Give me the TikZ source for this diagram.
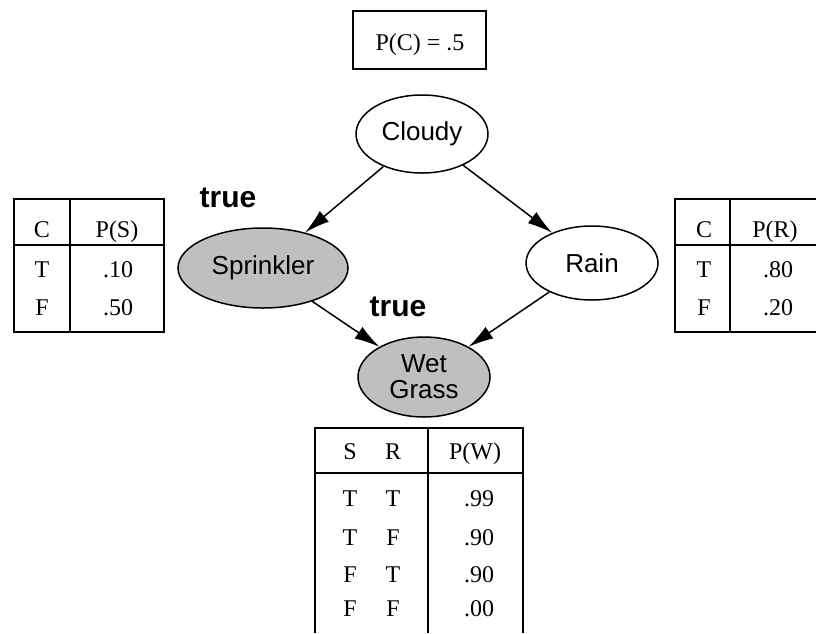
\documentclass[tikz,border=0pt]{standalone}
\usepackage{fontspec}
\setmainfont{Liberation Serif}
\setsansfont{Liberation Sans}
\usetikzlibrary{arrows.meta,shapes.geometric}

\tikzset{
  var/.style={draw, ellipse, line width=1.5pt, inner sep=0pt, align=center,
    minimum width=132pt, minimum height=78pt,
    font=\sffamily\fontsize{26}{26}\selectfont},
  obs/.style={var, fill=black!25},
  dep/.style={-{Latex[length=25pt,width=14pt]}, line width=1.5pt},
  cell/.style={anchor=base, inner sep=0pt, font=\fontsize{24}{26}\selectfont},
  evid/.style={anchor=base, inner sep=0pt, font=\sffamily\bfseries\fontsize{30}{32}\selectfont},
  rule/.style={line width=1.5pt}
}

\begin{document}
\begin{tikzpicture}[x=1pt, y=-1pt]
\useasboundingbox (0,0) rectangle (816,633);

% prior of Cloudy
\draw[rule] (353,11) rectangle (486,69);
\node[cell] (pc) at (420,50) {P(C) = .5};

% variables
\node[var] (cloudy) at (422,134) {Cloudy};
\node[obs, minimum width=170pt, minimum height=80pt] (sprinkler) at (263,268) {Sprinkler};
\node[var, minimum height=74pt] (rain) at (592,263) {Rain};
\node[obs, minimum height=80pt] (wetgrass) at (424,377) {Wet\\Grass};

\path[dep] (cloudy) edge (sprinkler);
\path[dep] (cloudy) edge (rain);
\path[dep] (sprinkler) edge (wetgrass);
\path[dep] (rain) edge (wetgrass);

% evidence
\node[evid] (trueS) at (228,207) {true};
\node[evid] (trueW) at (398,316) {true};

% table of Sprinkler
\draw[rule] (14,199) rectangle (164,332);
\draw[rule] (70,199) -- (70,332);
\draw[rule] (14,245) -- (164,245);
\node[cell] (sC) at (42,237) {C};
\node[cell] (sP) at (117,237) {P(S)};
\node[cell] (sT) at (42,277) {T};
\node[cell] (sT1) at (118,277) {.10};
\node[cell] (sF) at (42,315) {F};
\node[cell] (sF1) at (118,315) {.50};

% table of Rain
\draw[rule] (816,199) -- (675,199) -- (675,332) -- (816,332);
\draw[rule] (730,199) -- (730,332);
\draw[rule] (675,245) -- (816,245);
\node[cell] (rC) at (704,237) {C};
\node[cell] (rP) at (775,237) {P(R)};
\node[cell] (rT) at (704,277) {T};
\node[cell] (rT1) at (778,277) {.80};
\node[cell] (rF) at (704,315) {F};
\node[cell] (rF1) at (778,315) {.20};

% table of Wet Grass
\draw[rule] (315,633) -- (315,428) -- (523,428) -- (523,633);
\draw[rule] (428,428) -- (428,633);
\draw[rule] (315,473) -- (523,473);
\node[cell] (wS) at (350,459) {S};
\node[cell] (wR) at (393,459) {R};
\node[cell] (wP) at (475,459) {P(W)};
\foreach \s/\r/\p/\y [count=\i] in {T/T/.99/506, T/F/.90/545, F/T/.90/582, F/F/.00/616}{
  \node[cell] (wS\i) at (350,\y) {\s};
  \node[cell] (wR\i) at (393,\y) {\r};
  \node[cell] (wP\i) at (479,\y) {\p};
}

\end{tikzpicture}
\end{document}
